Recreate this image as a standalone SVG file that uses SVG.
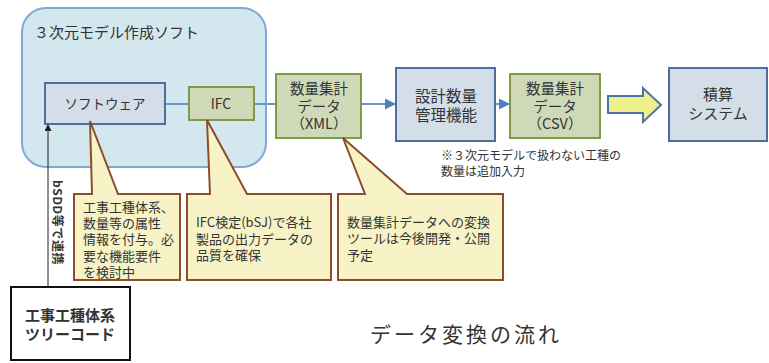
<svg xmlns="http://www.w3.org/2000/svg" width="769" height="363" viewBox="0 0 769 363">
<defs>
<style>
text{font-family:"Noto Sans CJK JP","Noto Sans",sans-serif;fill:#333}
.blue{fill:#d4dee9;stroke:#4f6f9a;stroke-width:2}
.green{fill:#cfd9b8;stroke:#7d9a48;stroke-width:2}
.call{fill:#f7f3c6;stroke:#8c4d2a;stroke-width:2;stroke-linejoin:miter}
.c{text-anchor:middle}
.conn{stroke:#6a95c9;stroke-width:2;fill:none}
</style>
<marker id="ab" markerWidth="11" markerHeight="11" refX="11" refY="5.5" orient="auto" markerUnits="userSpaceOnUse">
<path d="M0,0 L11,5.5 L0,11 Z" fill="#4f7fc0"/>
</marker>
<marker id="ak" markerWidth="8" markerHeight="8" refX="7" refY="3.5" orient="auto" markerUnits="userSpaceOnUse">
<path d="M0,0 L7,3.5 L0,7 Z" fill="#222"/>
</marker>
</defs>
<rect width="769" height="363" fill="#fff"/>

<g id="soft3d">
<rect x="22" y="8" width="244" height="159" rx="24" fill="#d3e7ee" stroke="#7fa8d5" stroke-width="2"/>
<text x="34" y="38" font-size="15">３次元モデル作成ソフト</text>
</g>

<g id="connectors">
<line class="conn" x1="165" y1="104" x2="189" y2="104"/>
<line class="conn" x1="254" y1="104" x2="276" y2="104"/>
<line class="conn" x1="361" y1="104" x2="396" y2="104" marker-end="url(#ab)"/>
<line class="conn" x1="495" y1="104" x2="510" y2="104" marker-end="url(#ab)"/>
<line x1="48" y1="287" x2="48" y2="124" stroke="#222" stroke-width="1" marker-end="url(#ak)"/>
<text transform="translate(53,180) rotate(90)" font-size="12" font-weight="bold" letter-spacing="0.6">bSDD等で連携</text>
<path d="M608,96 H643 V88 L661,105 L643,122 V113 H608 Z" fill="#eef08c" stroke="#4f73a8" stroke-width="2"/>
</g>

<g id="software">
<rect class="blue" x="45" y="83" width="120" height="41"/>
<text class="c" x="105" y="109" font-size="13.5">ソフトウェア</text>
</g>

<g id="ifc">
<rect class="green" x="189" y="87" width="65" height="33"/>
<text class="c" x="221" y="109" font-size="14">IFC</text>
</g>

<g id="xml">
<rect class="green" x="276" y="74" width="85" height="64"/>
<text class="c" x="319" y="94" font-size="14.5">数量集計</text>
<text class="c" x="319" y="112" font-size="14.5">データ</text>
<text class="c" x="319" y="129" font-size="14.5">（XML）</text>
</g>

<g id="kanri">
<rect class="blue" x="396" y="68" width="99" height="73"/>
<text class="c" x="446" y="102" font-size="15.5">設計数量</text>
<text class="c" x="446" y="121" font-size="15.5">管理機能</text>
</g>

<g id="csv">
<rect class="green" x="510" y="74" width="90" height="64"/>
<text class="c" x="555" y="94" font-size="14.5">数量集計</text>
<text class="c" x="555" y="112" font-size="14.5">データ</text>
<text class="c" x="555" y="129" font-size="14.5">（CSV）</text>
</g>

<g id="sekisan">
<rect class="blue" x="669" y="68" width="98" height="73"/>
<text class="c" x="718" y="100" font-size="15">積算</text>
<text class="c" x="718" y="119" font-size="15">システム</text>
</g>

<g id="note">
<text x="441" y="160" font-size="12">※３次元モデルで扱わない工種の</text>
<text x="441" y="176" font-size="12">数量は追加入力</text>
</g>

<g id="callout1">
<path class="call" d="M74,194 H92 L90,121 L118,194 H180 V280 H74 Z"/>
<text x="83" y="212" font-size="13">工事工種体系、</text>
<text x="83" y="228" font-size="13">数量等の属性</text>
<text x="83" y="244" font-size="13">情報を付与。必</text>
<text x="83" y="261" font-size="13">要な機能要件</text>
<text x="83" y="277" font-size="13">を検討中</text>
</g>

<g id="callout2">
<path class="call" d="M187,194 H210 L207,120 L247,194 H331 V280 H187 Z"/>
<text x="196" y="227" font-size="13">IFC検定(bSJ)で各社</text>
<text x="196" y="244" font-size="13">製品の出力データの</text>
<text x="196" y="260" font-size="13">品質を確保</text>
</g>

<g id="callout3">
<path class="call" d="M338,194 H365 L343,138 L407,194 H503 V280 H338 Z"/>
<text x="347" y="227" font-size="13">数量集計データへの変換</text>
<text x="347" y="243" font-size="13">ツールは今後開発・公開</text>
<text x="347" y="260" font-size="13">予定</text>
</g>

<g id="treecode">
<rect x="11" y="287" width="119" height="73" fill="#fff" stroke="#111" stroke-width="2"/>
<text class="c" x="70" y="321" font-size="15" font-weight="bold">工事工種体系</text>
<text class="c" x="70" y="340" font-size="15" font-weight="bold">ツリーコード</text>
</g>

<g id="caption">
<text x="370" y="342" font-size="21" letter-spacing="3">データ変換の流れ</text>
</g>
</svg>
